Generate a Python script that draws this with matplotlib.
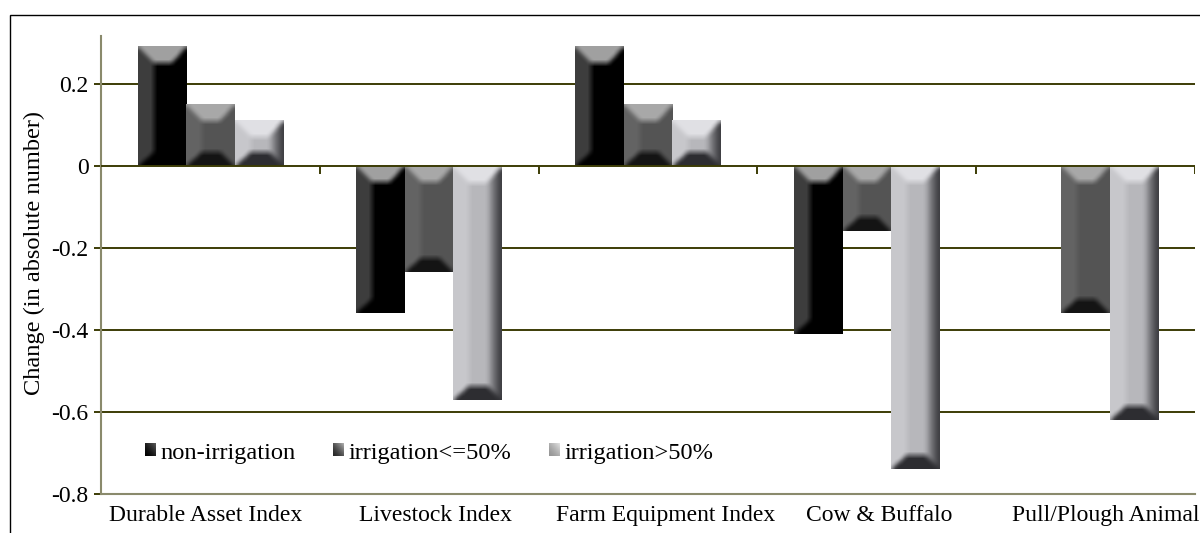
import numpy as np
import matplotlib
matplotlib.use("Agg")
import matplotlib.pyplot as plt
from matplotlib.patches import Patch, Rectangle
from matplotlib.ticker import FuncFormatter
from matplotlib.transforms import ScaledTranslation, Bbox, TransformedBbox
from matplotlib.legend_handler import HandlerBase
from matplotlib.image import BboxImage


# ===================== Data =====================
CATEGORIES = [
    "Durable Asset Index",
    "Livestock Index",
    "Farm Equipment Index",
    "Cow & Buffalo",
    "Pull/Plough Animal",
]
SERIES = ["non-irrigation", "irrigation<=50%", "irrigation>50%"]

NON_IRRIGATION = [0.29, -0.36, 0.29, -0.41, np.nan]
IRRIGATION_LE50 = [0.15, -0.26, 0.15, -0.16, -0.36]
IRRIGATION_GT50 = [0.11, -0.57, 0.11, -0.74, -0.62]

Y_TICKS = [0.2, 0, -0.2, -0.4, -0.6, -0.8]
Y_LIM = (-0.8, 0.316)


# ===================== Style =====================
FIGSIZE = (12, 5.33)
DPI = 100
AX_RECT = (101 / 1200, 39 / 533, 1094 / 1200, 458 / 533)

BAR_WIDTH = 0.222
GRID_COLOR = "#3c3c06"
SPINE_COLOR = "#8a8a6c"
FONT_SIZE = 17
LEGEND_FONT_SIZE = 17.6
YLABEL_FONT_SIZE = 17.6

# horizontal nudges (pixels) of the category labels
LABEL_SHIFT_PX = [-5, 6, 18, 12, 20]

# grey levels of the bevelled faces: body, left, top, right, bottom
BEVEL = [
    dict(body=0, left=62, top=160, right=0, bottom=0, tint=0),
    dict(body=84, left=100, top=168, right=84, bottom=20, tint=0),
    dict(body=184, left=200, top=224, right=58, bottom=46, tint=4),
]
# face sizes in pixels: top, left, right, bottom
BEVEL_PX = (17, 16, 15, 14)

# legend swatch gradients: (dark corner, light corner)
SWATCH_GREYS = [(0, 90), (40, 175), (150, 225)]

plt.rcParams["font.family"] = ["Liberation Serif", "DejaVu Serif"]
plt.rcParams["axes.unicode_minus"] = False


# ===================== Helpers =====================
def box_blur(img, k):
    if k <= 1:
        return img
    pad = k // 2
    kern = np.ones(k) / k
    p = np.pad(img, pad, mode="edge")
    p = np.apply_along_axis(lambda v: np.convolve(v, kern, mode="valid"), 0, p)
    p = np.apply_along_axis(lambda v: np.convolve(v, kern, mode="valid"), 1, p)
    return p


def bevel_image(w, h, style):
    """Grey bevel texture (lit from the upper left) of w x h pixels."""
    bt, bl, br, bb = BEVEL_PX
    bt = max(min(bt, h * 0.4), 1)
    bb = max(min(bb, h * 0.35), 1)
    bl = max(min(bl, w * 0.35), 1)
    br = max(min(br, w * 0.32), 1)

    r = np.arange(h)[:, None] + 0.5
    c = np.arange(w)[None, :] + 0.5
    dist = np.stack(np.broadcast_arrays(r / bt, c / bl, (w - c) / br, (h - r) / bb))
    zone = np.argmin(dist, axis=0)
    dmin = dist.min(axis=0)
    inside = dmin < 1

    body = float(style["body"])
    faces = np.array([style["top"], style["left"], style["right"], style["bottom"]], float)
    img = np.full((h, w), body)
    img[inside] = faces[zone[inside]]

    # right face fades from the edge towards the body
    right = inside & (zone == 2)
    t = dmin[right]
    img[right] = style["right"] + (body - style["right"]) * t ** 1.3

    img = box_blur(img, 7)
    rgb = np.dstack([img, img, img + style["tint"]])
    return np.clip(rgb / 255.0, 0, 1)


def swatch_image(dark, light, n=16):
    u = np.linspace(0, 1, n)
    g = (u[None, :] + (1 - u[:, None])) / 2
    g = dark + (light - dark) * g ** 1.5
    return np.dstack([g, g, g]) / 255.0


class HandlerSwatch(HandlerBase):
    def __init__(self, image):
        super().__init__()
        self.image = image

    def create_artists(self, legend, orig_handle, xdescent, ydescent,
                       width, height, fontsize, trans):
        bb = TransformedBbox(Bbox.from_bounds(-xdescent, -ydescent, width, height), trans)
        img = BboxImage(bb, interpolation="bilinear")
        img.set_data(self.image)
        return [img]


def draw_bevel_bars(ax, x, values, style):
    bars = ax.bar(x, values, width=BAR_WIDTH, color="none", linewidth=0, zorder=2)
    for rect, v in zip(bars, values):
        if np.isnan(v):
            continue
        x0, x1 = rect.get_x(), rect.get_x() + rect.get_width()
        y0, y1 = sorted([rect.get_y(), rect.get_y() + rect.get_height()])
        (px0, py0), (px1, py1) = ax.transData.transform([(x0, y0), (x1, y1)])
        w = max(int(round(px1 - px0)), 2)
        h = max(int(round(py1 - py0)), 2)
        ax.imshow(
            bevel_image(w, h, style),
            extent=(x0, x1, y0, y1),
            origin="upper",
            aspect="auto",
            interpolation="nearest",
            zorder=2,
        )


def main():
    fig = plt.figure(figsize=FIGSIZE, dpi=DPI)
    ax = fig.add_axes(AX_RECT)
    ax.set_xlim(-0.5, len(CATEGORIES) - 0.5)
    ax.set_ylim(*Y_LIM)

    x = np.arange(len(CATEGORIES))
    series_values = [NON_IRRIGATION, IRRIGATION_LE50, IRRIGATION_GT50]
    offsets = [-BAR_WIDTH, 0, BAR_WIDTH]
    for vals, off, style in zip(series_values, offsets, BEVEL):
        draw_bevel_bars(ax, x + off, np.array(vals, float), style)

    ax.set_xlim(-0.5, len(CATEGORIES) - 0.5)
    ax.set_ylim(*Y_LIM)

    # gridlines and category axis along zero
    for t in Y_TICKS[:-1]:
        ax.axhline(t, color=GRID_COLOR, lw=1.4, zorder=1 if t != 0 else 3)
    tick_len = 8 / (458 / (Y_LIM[1] - Y_LIM[0]))
    ax.vlines(x + 0.5, -tick_len, 0, color=GRID_COLOR, lw=1.4, zorder=3)

    # axes
    for side in ["top", "right"]:
        ax.spines[side].set_visible(False)
    for side in ["left", "bottom"]:
        ax.spines[side].set_color(SPINE_COLOR)
        ax.spines[side].set_linewidth(1.5)

    ax.set_yticks(Y_TICKS)
    ax.yaxis.set_major_formatter(FuncFormatter(lambda v, _: "0" if abs(v) < 1e-9 else f"{v:.1f}"))
    ax.tick_params(axis="y", length=5, width=1.4, color=GRID_COLOR, pad=4,
                   labelsize=FONT_SIZE)
    ax.set_xticks([])

    # category labels under the plot
    for i, (name, dx) in enumerate(zip(CATEGORIES, LABEL_SHIFT_PX)):
        tr = ax.get_xaxis_transform() + ScaledTranslation(dx / DPI, -11 / DPI, fig.dpi_scale_trans)
        ax.text(i, 0, name, transform=tr, ha="center", va="top",
                fontsize=FONT_SIZE, clip_on=False)

    ax.set_ylabel("Change (in absolute number)", fontsize=YLABEL_FONT_SIZE)
    ax.yaxis.set_label_coords(-0.051, 0.527)

    handles = [Patch(label=s) for s in SERIES]
    handler_map = {h: HandlerSwatch(swatch_image(*g)) for h, g in zip(handles, SWATCH_GREYS)}
    ax.legend(handles=handles, handler_map=handler_map, ncol=3, frameon=False,
              loc="center left", bbox_to_anchor=(0.0402, 0.0895), borderpad=0,
              borderaxespad=0, handlelength=0.45, handleheight=0.38,
              handletextpad=0.17, columnspacing=1.55, fontsize=LEGEND_FONT_SIZE)

    # thin frame around the chart area
    fig.patches.append(Rectangle((10 / 1200, -0.1), 2, 1 - 15 / 533 + 0.1,
                                 transform=fig.transFigure, fill=False,
                                 edgecolor="black", lw=1.0))

    fig.savefig("out.png", dpi=DPI)
    plt.close(fig)


if __name__ == "__main__":
    main()
